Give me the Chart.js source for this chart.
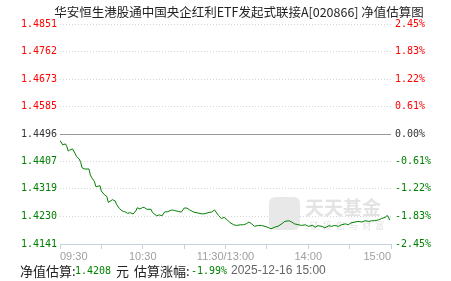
<!DOCTYPE html>
<html>
<head>
<meta charset="utf-8">
<script src="https://cdn.jsdelivr.net/npm/chart.js@4.4.0/dist/chart.umd.min.js"></script>
<style>
  html, body { margin: 0; padding: 0; background: #fff; overflow: hidden; }
  #wrap { width: 451px; height: 281px; }
</style>
</head>
<body>
<div id="wrap"><canvas id="nav-chart" width="451" height="281"></canvas></div>
<script>
// minutes after 09:30 (lunch break removed: 120 = 11:30/13:00, 240 = 15:00)
const minutes = [
  0, 2, 4, 5, 6, 7, 9, 11, 12, 14, 15, 16, 18, 21, 22, 23, 25, 26, 29, 30,
  32, 34, 35, 37, 38, 40, 41, 43, 45, 47, 49, 51, 53, 55, 56, 58, 60, 61, 63, 66,
  67, 70, 72, 74, 76, 78, 81, 83, 86, 88, 90, 92, 94, 97, 100, 103, 105, 108, 110, 112,
  115, 117, 119, 121, 123, 126, 128, 131, 133, 135, 137, 139, 141, 144, 146, 150, 153, 156, 158, 161,
  163, 166, 168, 170, 173, 175, 178, 180, 183, 185, 187, 190, 192, 195, 197, 199, 202, 204, 207, 209,
  211, 214, 216, 219, 221, 224, 226, 228, 231, 233, 236, 237, 238, 239
];
const navValues = [
  1.4475, 1.4461, 1.4464, 1.4455, 1.4441, 1.4444, 1.4448, 1.4433, 1.4423, 1.4415, 1.4404, 1.4387, 1.4383, 1.4383, 1.4364, 1.4355, 1.4342, 1.4326, 1.4329, 1.4312,
  1.4301, 1.4294, 1.4275, 1.4281, 1.4284, 1.4280, 1.4269, 1.4256, 1.4248, 1.4245, 1.4240, 1.4242, 1.4238, 1.4248, 1.4258, 1.4254, 1.4259, 1.4259, 1.4253, 1.4253,
  1.4243, 1.4232, 1.4235, 1.4232, 1.4245, 1.4245, 1.4251, 1.4249, 1.4246, 1.4244, 1.4257, 1.4257, 1.4251, 1.4244, 1.4241, 1.4238, 1.4239, 1.4243, 1.4244, 1.4251,
  1.4233, 1.4223, 1.4227, 1.4220, 1.4211, 1.4203, 1.4201, 1.4203, 1.4203, 1.4206, 1.4212, 1.4206, 1.4198, 1.4201, 1.4201, 1.4196, 1.4190, 1.4196, 1.4198, 1.4207,
  1.4214, 1.4216, 1.4212, 1.4206, 1.4203, 1.4201, 1.4203, 1.4198, 1.4201, 1.4195, 1.4200, 1.4198, 1.4193, 1.4200, 1.4198, 1.4201, 1.4198, 1.4203, 1.4206, 1.4203,
  1.4209, 1.4212, 1.4214, 1.4212, 1.4216, 1.4214, 1.4216, 1.4216, 1.4219, 1.4223, 1.4227, 1.4233, 1.4230, 1.4218
];

const navTicks = [1.4141, 1.4230, 1.4319, 1.4407, 1.4496, 1.4585, 1.4673, 1.4762, 1.4851];
const pctTicks = [-2.45, -1.83, -1.22, -0.61, 0, 0.61, 1.22, 1.83, 2.45];
const baseNav = 1.4496;
const timeTicks = [0, 30, 60, 90, 120, 150, 180, 210, 240];
const timeLabels = ["09:30", "", "10:30", "", "11:30/13:00", "", "14:00", "", "15:00"];

const title = "华安恒生港股通中国央企红利ETF发起式联接A[020866] 净值估算图";
const footer = [
  { text: "净值估算:", color: "#222", x: 20, font: "13px 'Noto Sans CJK SC'" },
  { text: "1.4208", color: "#008000", x: 75, font: "10px 'DejaVu Sans Mono'" },
  { text: "元", color: "#222", x: 116, font: "13px 'Noto Sans CJK SC'" },
  { text: "估算涨幅:", color: "#222", x: 134, font: "13px 'Noto Sans CJK SC'" },
  { text: "-1.99%", color: "#008000", x: 191, font: "10px 'DejaVu Sans Mono'" },
  { text: "2025-12-16 15:00", color: "#666", x: 231, font: "12px 'Liberation Sans'" },
];

const GREEN = "#008000";
const RED = "#ff0000";

function tickColor(i) {
  if (i > 4) return RED;
  if (i === 4) return "#333";
  return GREEN;
}

// title, footer and watermark
const textPlugin = {
  id: "textPlugin",
  beforeDatasetsDraw(chart) {
    const { ctx } = chart;
    ctx.save();
    // faint 天天基金 watermark
    ctx.fillStyle = "#e8e8e8";
    const r = 6, x0 = 269, y0 = 197, w = 31, h = 33;
    ctx.beginPath();
    ctx.moveTo(x0 + r, y0);
    ctx.arcTo(x0 + w, y0, x0 + w, y0 + h, r);
    ctx.arcTo(x0 + w, y0 + h, x0, y0 + h, r);
    ctx.arcTo(x0, y0 + h, x0, y0, r);
    ctx.arcTo(x0, y0, x0 + w, y0, r);
    ctx.fill();
    ctx.fillStyle = "#e3e3e3";
    ctx.font = "bold 19px 'Noto Sans CJK SC'";
    ctx.textBaseline = "middle";
    ctx.fillText("天天基金", 305, 208);
    ctx.font = "9px 'Noto Sans CJK SC'";
    ctx.fillText("链  接  您  与  财  富", 310, 226);
    ctx.restore();
  },
  afterDraw(chart) {
    const { ctx } = chart;
    ctx.save();
    ctx.textBaseline = "middle";
    ctx.fillStyle = "#222";
    ctx.font = "12.5px 'Noto Sans CJK SC'";
    ctx.textAlign = "center";
    ctx.fillText(title, 239, 12);
    ctx.textAlign = "left";
    footer.forEach((seg) => {
      ctx.font = seg.font;
      ctx.fillStyle = seg.color;
      ctx.fillText(seg.text, seg.x, 271);
    });
    ctx.restore();
  },
};

new Chart(document.getElementById("nav-chart").getContext("2d"), {
  type: "line",
  data: {
    datasets: [
      {
        data: minutes.map((m, i) => ({ x: m, y: navValues[i] })),
        borderColor: GREEN,
        borderWidth: 1,
        pointRadius: 0,
        tension: 0,
        fill: false,
        yAxisID: "y",
      },
    ],
  },
  options: {
    responsive: false,
    animation: false,
    devicePixelRatio: 1,
    layout: { padding: { top: 24, left: 0, right: 0, bottom: 0 } },
    plugins: { legend: { display: false }, tooltip: { enabled: false } },
    scales: {
      x: {
        type: "linear",
        min: 0,
        max: 240,
        afterBuildTicks: (axis) => { axis.ticks = timeTicks.map((v) => ({ value: v })); },
        afterFit: (axis) => { axis.height = 37; },
        ticks: {
          autoSkip: false,
          maxRotation: 0,
          align: "inner",
          padding: 1,
          color: "#a0a0a0",
          font: { family: "'Liberation Sans'", size: 11 },
          callback: (v) => timeLabels[timeTicks.indexOf(v)],
        },
        grid: { drawOnChartArea: false, drawTicks: true, tickLength: 5, color: "#c5d3e0" },
        border: { display: true, color: "#c5d3e0" },
      },
      y: {
        position: "left",
        min: navTicks[0],
        max: navTicks[navTicks.length - 1],
        afterBuildTicks: (axis) => { axis.ticks = navTicks.map((v) => ({ value: v })); },
        afterFit: (axis) => { axis.width = 60; },
        ticks: {
          padding: 3,
          font: { family: "'DejaVu Sans Mono'", size: 10 },
          color: (c) => tickColor(c.index),
          callback: (v) => v.toFixed(4),
        },
        grid: {
          drawTicks: false,
          color: (c) => (c.tick && c.tick.value === baseNav ? "#999" : "#d6d6d6"),
          lineWidth: 1,
        },
        border: {
          display: false,
          dash: (c) => (c.tick && c.tick.value === baseNav ? [] : [1, 2]),
        },
      },
      y2: {
        position: "right",
        min: pctTicks[0],
        max: pctTicks[pctTicks.length - 1],
        afterBuildTicks: (axis) => { axis.ticks = pctTicks.map((v) => ({ value: v })); },
        afterFit: (axis) => { axis.width = 60; },
        ticks: {
          padding: 4,
          font: { family: "'DejaVu Sans Mono'", size: 10 },
          color: (c) => tickColor(c.index),
          callback: (v) => v.toFixed(2) + "%",
        },
        grid: { display: false, drawTicks: false },
        border: { display: false },
      },
    },
  },
  plugins: [textPlugin],
});
</script>
</body>
</html>
